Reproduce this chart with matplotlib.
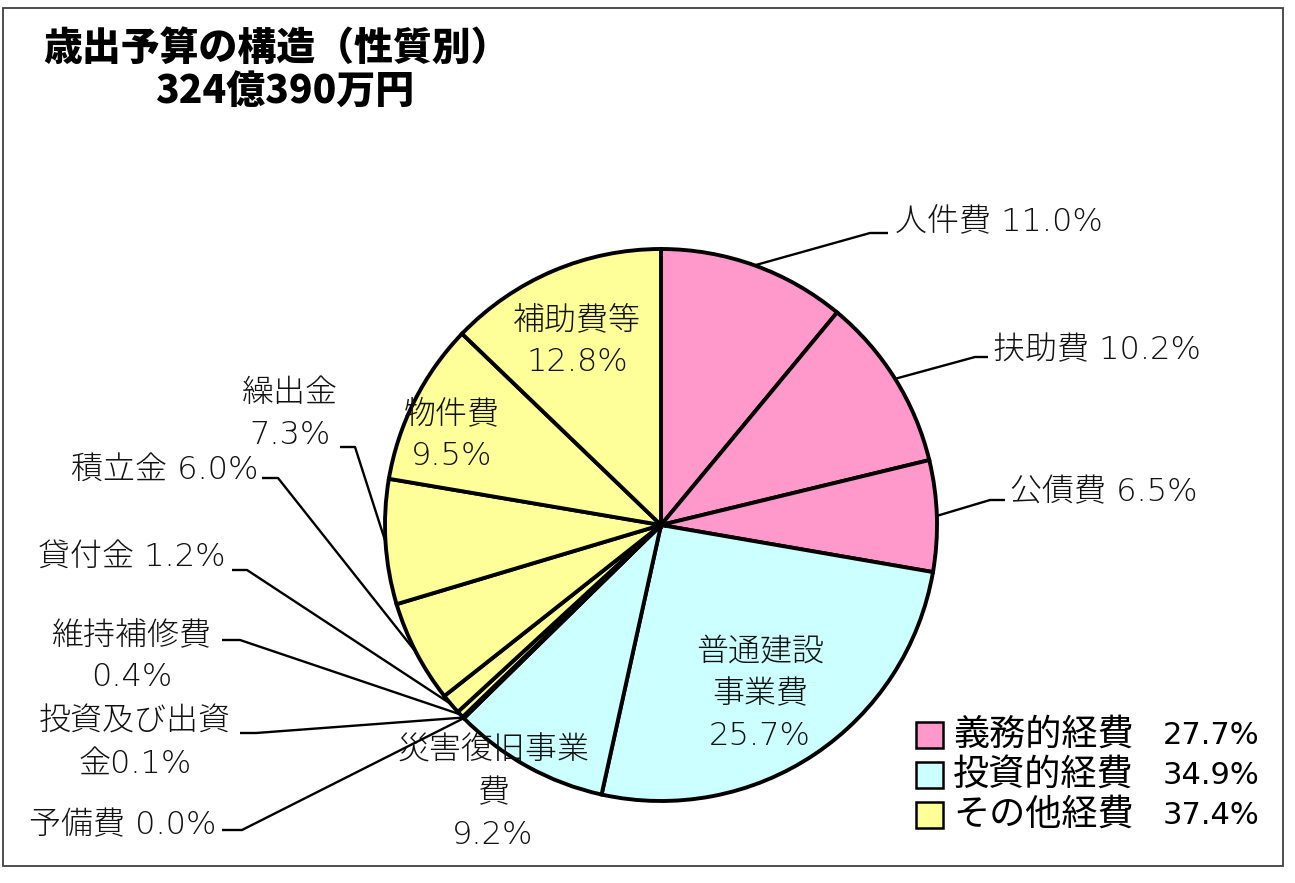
import matplotlib
matplotlib.use("Agg")
import matplotlib.pyplot as plt
from matplotlib.patches import Rectangle
import numpy as np

plt.rcParams['font.family'] = ['Noto Sans CJK JP', 'DejaVu Sans']

# ---------------- data ----------------
title_line1 = "歳出予算の構造（性質別）"
title_line2 = "324億390万円"

categories = ["人件費", "扶助費", "公債費", "普通建設事業費", "災害復旧事業費",
              "予備費", "投資及び出資金", "維持補修費", "貸付金", "積立金",
              "繰出金", "物件費", "補助費等"]
shares = [11.0, 10.2, 6.5, 25.7, 9.2, 0.0, 0.1, 0.4, 1.2, 6.0, 7.3, 9.5, 12.8]
category_group = [0, 0, 0, 1, 1, 2, 2, 2, 2, 2, 2, 2, 2]

group_names = ["義務的経費", "投資的経費", "その他経費"]
group_shares = [27.7, 34.9, 37.4]
group_colors = ["#FF99CC", "#CCFFFF", "#FFFF99"]

# ---------------- layout ----------------
W, H = 1295, 883
fig = plt.figure(figsize=(W / 100, H / 100), dpi=100)
ax = fig.add_axes([0, 0, 1, 1])

def P(x, y):
    return x, H - y

cx, cy = P(661, 525)
R = 276

wedges, _ = ax.pie(shares, colors=[group_colors[g] for g in category_group],
                   startangle=90, counterclock=False, radius=R, center=(cx, cy),
                   wedgeprops=dict(edgecolor="black", linewidth=2.8),
                   normalize=True)
ax.set_xlim(0, W)
ax.set_ylim(0, H)
ax.set_aspect('equal')
ax.axis('off')

# outer frame
ax.add_patch(Rectangle(P(3, 866), 1280, 858, fill=False, edgecolor="#404040",
                       linewidth=1.3))

# title
ax.text(*P(276, 48), title_line1, ha="center", va="center", fontsize=28,
        fontweight="heavy")
ax.text(*P(285, 92), title_line2, ha="center", va="center", fontsize=28,
        fontweight="heavy")

LBL_FS = 23
LINE_GAP = 42
LBL_FAMILY = ['DejaVu Sans', 'Noto Sans CJK JP']

layout = {
    "人件費":         dict(fmt="inline", x=895, y=222, ha="left",  dash=((888, 233), (870, 233))),
    "扶助費":         dict(fmt="inline", x=993, y=350, ha="left",  dash=((988, 357), (975, 357))),
    "公債費":         dict(fmt="inline", x=1010, y=492, ha="left", dash=((1005, 500), (990, 500))),
    "普通建設事業費": dict(fmt=[4], x=760, y=694, ha="center"),
    "災害復旧事業費": dict(fmt=[6], x=493, y=793, ha="center"),
    "予備費":         dict(fmt="inline", x=216, y=825, ha="right", dash=((222, 830), (242, 830))),
    "投資及び出資金": dict(fmt="join6", x=135, y=743, ha="center", dash=((240, 733), (256, 733))),
    "維持補修費":     dict(fmt=[], x=132, y=656, ha="center", dash=((222, 640), (240, 640))),
    "貸付金":         dict(fmt="inline", x=226, y=557, ha="right", dash=((232, 570), (247, 570))),
    "積立金":         dict(fmt="inline", x=258, y=470, ha="right", dash=((262, 478), (278, 478))),
    "繰出金":         dict(fmt=[], x=290, y=414, ha="center", dash=((340, 447), (355, 447))),
    "物件費":         dict(fmt=[], x=452, y=435, ha="center"),
    "補助費等":       dict(fmt=[], x=577, y=341, ha="center"),
}

for name, v, w in zip(categories, shares, wedges):
    L = layout[name]
    pct = f"{v:.1f}%"
    if L["fmt"] == "inline":
        lines = [f"{name} {pct}"]
    elif L["fmt"] == "join6":
        lines = [name[:6], name[6:] + pct]
    else:
        parts, prev = [], 0
        for k in L["fmt"]:
            parts.append(name[prev:k]); prev = k
        parts.append(name[prev:])
        lines = parts + [pct]
    n = len(lines)
    y0 = L["y"] - (n - 1) * LINE_GAP / 2
    for i, s in enumerate(lines):
        ax.text(*P(L["x"], y0 + i * LINE_GAP), s, ha=L["ha"], va="center",
                fontsize=LBL_FS, color="#111111", family=LBL_FAMILY,
                fontweight="light")
    if "dash" in L:
        ang = np.deg2rad((w.theta1 + w.theta2) / 2)
        ex, ey = cx + R * np.cos(ang), cy + R * np.sin(ang)
        (ax1, ay1), (bx, by) = L["dash"]
        pa = P(ax1, ay1); pb = P(bx, by)
        ax.plot([pa[0], pb[0], ex], [pa[1], pb[1], ey], color="black",
                linewidth=1.7, solid_capstyle="butt", zorder=5)

# legend
for i, (gn, gs, gc) in enumerate(zip(group_names, group_shares, group_colors)):
    yc = 735 + 40 * i
    ax.add_patch(Rectangle(P(916, yc + 13), 27, 26, facecolor=gc,
                           edgecolor="black", linewidth=1.8))
    ax.text(*P(953, yc), gn, ha="left", va="center", fontsize=26)
    ax.text(*P(1259, yc), f"{gs:.1f}%", ha="right", va="center", fontsize=22,
            family=['Liberation Sans Narrow', 'DejaVu Sans'])

fig.savefig("out.png", dpi=100, facecolor="white")
